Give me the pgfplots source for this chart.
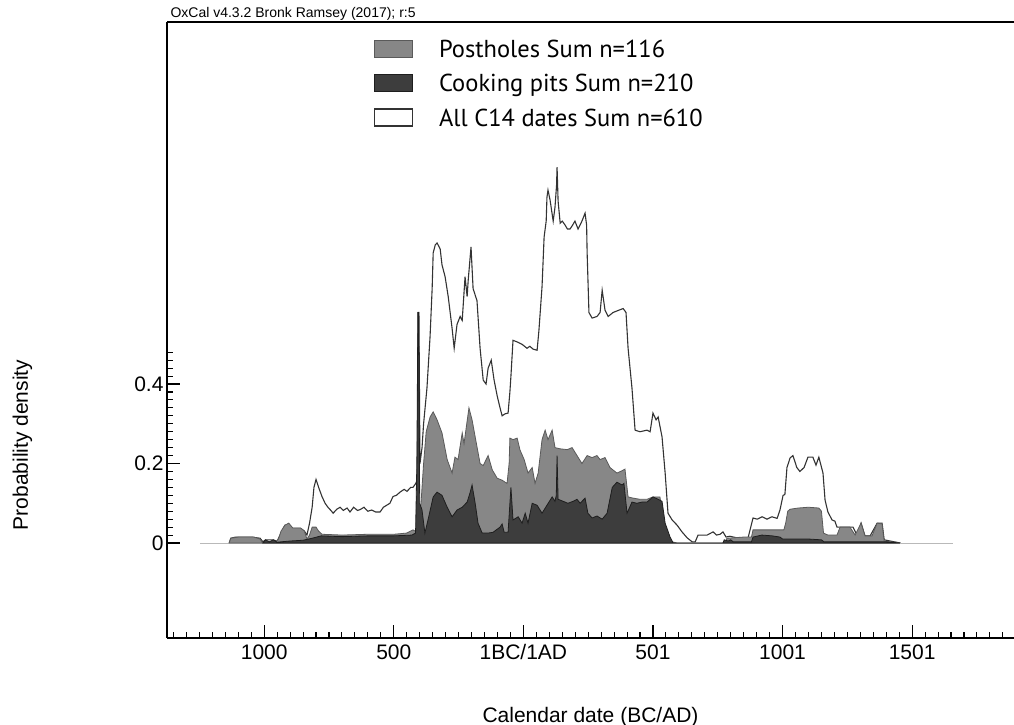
\documentclass[border=0pt]{standalone}
\usepackage{fontspec}
\setmainfont{Liberation Sans}
\newfontfamily\legfont{PT Sans}
\usepackage{pgfplots}
\pgfplotsset{compat=1.18}
\definecolor{phgray}{HTML}{878787}
\definecolor{phedge}{HTML}{5A5A5A}
\definecolor{cpdark}{HTML}{3D3D3D}
\definecolor{cpedge}{HTML}{1E1E1E}
\definecolor{allline}{HTML}{333333}

% summed probability densities, x = year (BC negative), y = density
\pgfplotstableread{
yr val
-1135 0
-1129 0.012
-1110 0.015
-1050 0.015
-1016 0.012
-1005 0.003
-995 0.008
-965 0.008
-950 0.004
-939 0.02
-920 0.045
-908 0.045
-890 0.037
-860 0.037
-845 0.03
-835 0.02
-825 0.05
-815 0.09
-808 0.14
-800 0.16
-790 0.14
-777 0.117
-765 0.1
-754 0.09
-740 0.08
-734 0.075
-720 0.085
-707 0.09
-695 0.082
-680 0.088
-669 0.078
-655 0.09
-640 0.082
-630 0.084
-615 0.09
-600 0.08
-585 0.083
-570 0.078
-553 0.078
-540 0.09
-515 0.1
-503 0.117
-490 0.12
-476 0.128
-460 0.135
-449 0.13
-435 0.14
-426 0.14
-415 0.15
-409 0.16
-406 0.58
-403 0.58
-399 0.2
-391 0.24
-385 0.3
-372 0.39
-360 0.52
-352 0.64
-348 0.73
-340 0.75
-333 0.755
-321 0.74
-314 0.70
-302 0.67
-290 0.62
-275 0.54
-267 0.49
-256 0.55
-244 0.57
-236 0.56
-225 0.67
-217 0.62
-213 0.66
-202 0.745
-194 0.64
-179 0.61
-167 0.49
-155 0.41
-144 0.40
-136 0.44
-124 0.46
-113 0.41
-101 0.37
-90 0.34
-82 0.32
-71 0.325
-59 0.327
-52 0.38
-48 0.42
-40 0.51
-24 0.506
-5 0.5
14 0.49
25 0.495
37 0.488
53 0.485
60 0.535
72 0.645
80 0.77
88 0.81
91 0.87
95 0.888
103 0.863
115 0.81
122 0.845
128 0.90
130 0.946
134 0.86
142 0.805
150 0.81
161 0.80
170 0.79
180 0.79
190 0.80
199 0.81
211 0.79
226 0.81
238 0.83
244 0.80
246 0.73
253 0.58
265 0.566
284 0.57
296 0.58
304 0.636
315 0.586
327 0.57
346 0.58
365 0.585
385 0.59
396 0.58
404 0.49
419 0.39
431 0.284
450 0.28
477 0.284
489 0.28
500 0.327
512 0.31
520 0.317
535 0.267
547 0.176
558 0.075
574 0.058
593 0.045
612 0.028
632 0.013
651 0.003
663 0.003
674 0.02
709 0.02
732 0.028
745 0.02
759 0.022
770 0.028
782 0.015
797 0.017
824 0.013
867 0.013
886 0.063
902 0.06
921 0.066
940 0.06
959 0.066
979 0.062
990 0.083
1002 0.12
1009 0.122
1017 0.19
1029 0.214
1040 0.22
1055 0.19
1067 0.18
1083 0.19
1098 0.216
1117 0.216
1129 0.196
1140 0.216
1156 0.176
1164 0.108
1175 0.078
1191 0.058
1202 0.055
1210 0.04
1222 0.04
1272 0.04
1287 0.02
1303 0.05
1318 0.018
1338 0.018
1365 0.05
1384 0.05
1392 0.008
1415 0.005
1455 0
}\alldates

\pgfplotstableread{
yr val
-1135 0
-1129 0.012
-1100 0.015
-1040 0.015
-1016 0.01
-1005 0
-960 0
-945 0.01
-935 0.03
-920 0.045
-905 0.05
-890 0.038
-860 0.038
-845 0.03
-835 0.01
-825 0.02
-815 0.04
-800 0.04
-790 0.03
-777 0.022
-700 0.02
-600 0.022
-500 0.022
-450 0.025
-426 0.033
-418 0.03
-412 0.03
-405 0.05
-395 0.1
-385 0.2
-375 0.28
-360 0.317
-348 0.33
-333 0.31
-314 0.277
-294 0.21
-275 0.176
-264 0.216
-252 0.21
-236 0.277
-229 0.25
-210 0.34
-198 0.31
-186 0.267
-167 0.2
-155 0.195
-136 0.22
-120 0.184
-101 0.163
-82 0.158
-63 0.15
-55 0.2
-52 0.264
-40 0.26
-24 0.264
-13 0.234
3 0.21
18 0.176
34 0.19
45 0.15
57 0.176
72 0.26
84 0.284
95 0.26
111 0.284
122 0.24
142 0.237
169 0.235
188 0.24
207 0.22
226 0.2
246 0.22
265 0.215
284 0.22
296 0.21
315 0.215
334 0.19
361 0.176
381 0.182
392 0.186
404 0.116
423 0.113
450 0.11
477 0.11
500 0.116
527 0.116
539 0.058
555 0.02
574 0.003
593 0
780 0
785 0.012
850 0.015
880 0.015
886 0.033
1005 0.033
1012 0.05
1020 0.08
1029 0.085
1060 0.088
1100 0.09
1140 0.088
1150 0.08
1158 0.025
1175 0.02
1210 0.02
1222 0.04
1260 0.04
1280 0.02
1303 0.05
1318 0.018
1345 0.018
1365 0.05
1384 0.048
1392 0.005
1415 0.003
1453 0
}\postholes

\pgfplotstableread{
yr val
-1005 0
-995 0.008
-980 0.003
-965 0.008
-950 0.002
-935 0.003
-900 0.005
-850 0.007
-815 0.012
-780 0.018
-700 0.016
-600 0.018
-500 0.018
-430 0.02
-416 0.025
-411 0.2
-407 0.58
-404 0.58
-400 0.1
-391 0.083
-380 0.025
-368 0.058
-348 0.116
-333 0.128
-314 0.12
-294 0.09
-275 0.066
-256 0.083
-236 0.09
-217 0.103
-206 0.126
-198 0.146
-186 0.1
-175 0.05
-159 0.025
-136 0.025
-117 0.027
-90 0.04
-82 0.048
-74 0.027
-59 0.027
-52 0.1
-48 0.14
-40 0.058
-20 0.066
-5 0.05
7 0.075
18 0.05
34 0.1
53 0.095
72 0.075
91 0.095
111 0.116
122 0.105
127 0.12
130 0.22
134 0.11
153 0.105
172 0.1
192 0.105
207 0.11
219 0.1
238 0.113
249 0.075
265 0.063
284 0.068
304 0.06
323 0.075
343 0.14
361 0.153
381 0.146
388 0.15
400 0.075
419 0.103
438 0.1
458 0.103
477 0.103
500 0.116
520 0.11
535 0.105
547 0.05
566 0.015
578 0
770 0
775 0.008
790 0.005
800 0.008
810 0.003
880 0.003
886 0.015
920 0.02
960 0.018
990 0.015
1000 0.01
1100 0.01
1150 0.008
1160 0.003
1400 0.003
1453 0
}\cookingpits

\begin{document}
\begin{tikzpicture}
\useasboundingbox (0,0) rectangle (1014pt,725pt);
\begin{axis}[
  at={(167pt,87pt)}, anchor=south west,
  scale only axis, width=847pt, height=616pt,
  xmin=-1375, xmax=1893, ymin=-0.239, ymax=1.311,
  axis lines*=left, clip=false,
  axis line style={line width=1.6pt},
  tick align=inside,
  major tick length=13pt, minor tick length=6pt,
  tick style={black, line width=1.1pt},
  xtick={-1000,-500,0,500,1000,1500},
  xticklabels={1000,500,1BC/1AD,501,1001,1501},
  minor xtick={-1350,-1300,...,1850},
  ytick={0,0.2,0.4}, yticklabels={0,0.2,0.4},
  minor ytick={0.02,0.04,0.06,0.08,0.1,0.12,0.14,0.16,0.18,0.22,0.24,0.26,0.28,0.3,0.32,0.34,0.36,0.38,0.42,0.44,0.46,0.48},
  tick label style={font=\fontsize{21}{25}\selectfont},
  xticklabel style={yshift=-3pt},
  title={OxCal v4.3.2 Bronk Ramsey (2017); r:5},
  every axis title/.style={at={(rel axis cs:0,1)}, anchor=base west, yshift=4pt, font=\fontsize{14}{16}\selectfont},
  xlabel={Calendar date (BC/AD)}, ylabel={Probability density},
  every axis x label/.style={at={(rel axis cs:0.5,0)}, anchor=base, yshift=-84pt, font=\fontsize{21}{25}\selectfont},
  every axis y label/.style={at={(rel axis cs:0,0.3133)}, xshift=-139pt, rotate=90, anchor=base, font=\fontsize{21}{25}\selectfont},
  legend style={draw=none, fill=none, inner sep=0pt, outer sep=0pt,
    at={(rel axis cs:0.2444,0.985)}, anchor=north west,
    font=\legfont\fontsize{24.5}{29}\selectfont, column sep=26pt, row sep=0pt,
    nodes={inner sep=0pt, text height=26.25pt, text depth=8.25pt}},
  legend cell align=left,
  legend image code/.code={\draw[#1] (0pt,-8.5pt) rectangle (38pt,8.5pt);},
]
\addplot[draw=allline, line width=1.1pt, fill=white, forget plot] table[x=yr, y=val] {\alldates};
\addplot[gray!55, line width=1pt, forget plot] coordinates {(-1248,0) (1658,0)};
\addplot[draw=phedge, line width=0.8pt, fill=phgray] table[x=yr, y=val] {\postholes} \closedcycle;
\addlegendentry{Postholes Sum n=116}
\addplot[draw=cpedge, line width=0.8pt, fill=cpdark] table[x=yr, y=val] {\cookingpits} \closedcycle;
\addlegendentry{Cooking pits Sum n=210}
\addlegendimage{draw=allline, line width=1.1pt, fill=white}
\addlegendentry{All C14 dates Sum n=610}
\draw[line width=2pt] (rel axis cs:0,1) -- (rel axis cs:1,1);
\end{axis}
\end{tikzpicture}
\end{document}
